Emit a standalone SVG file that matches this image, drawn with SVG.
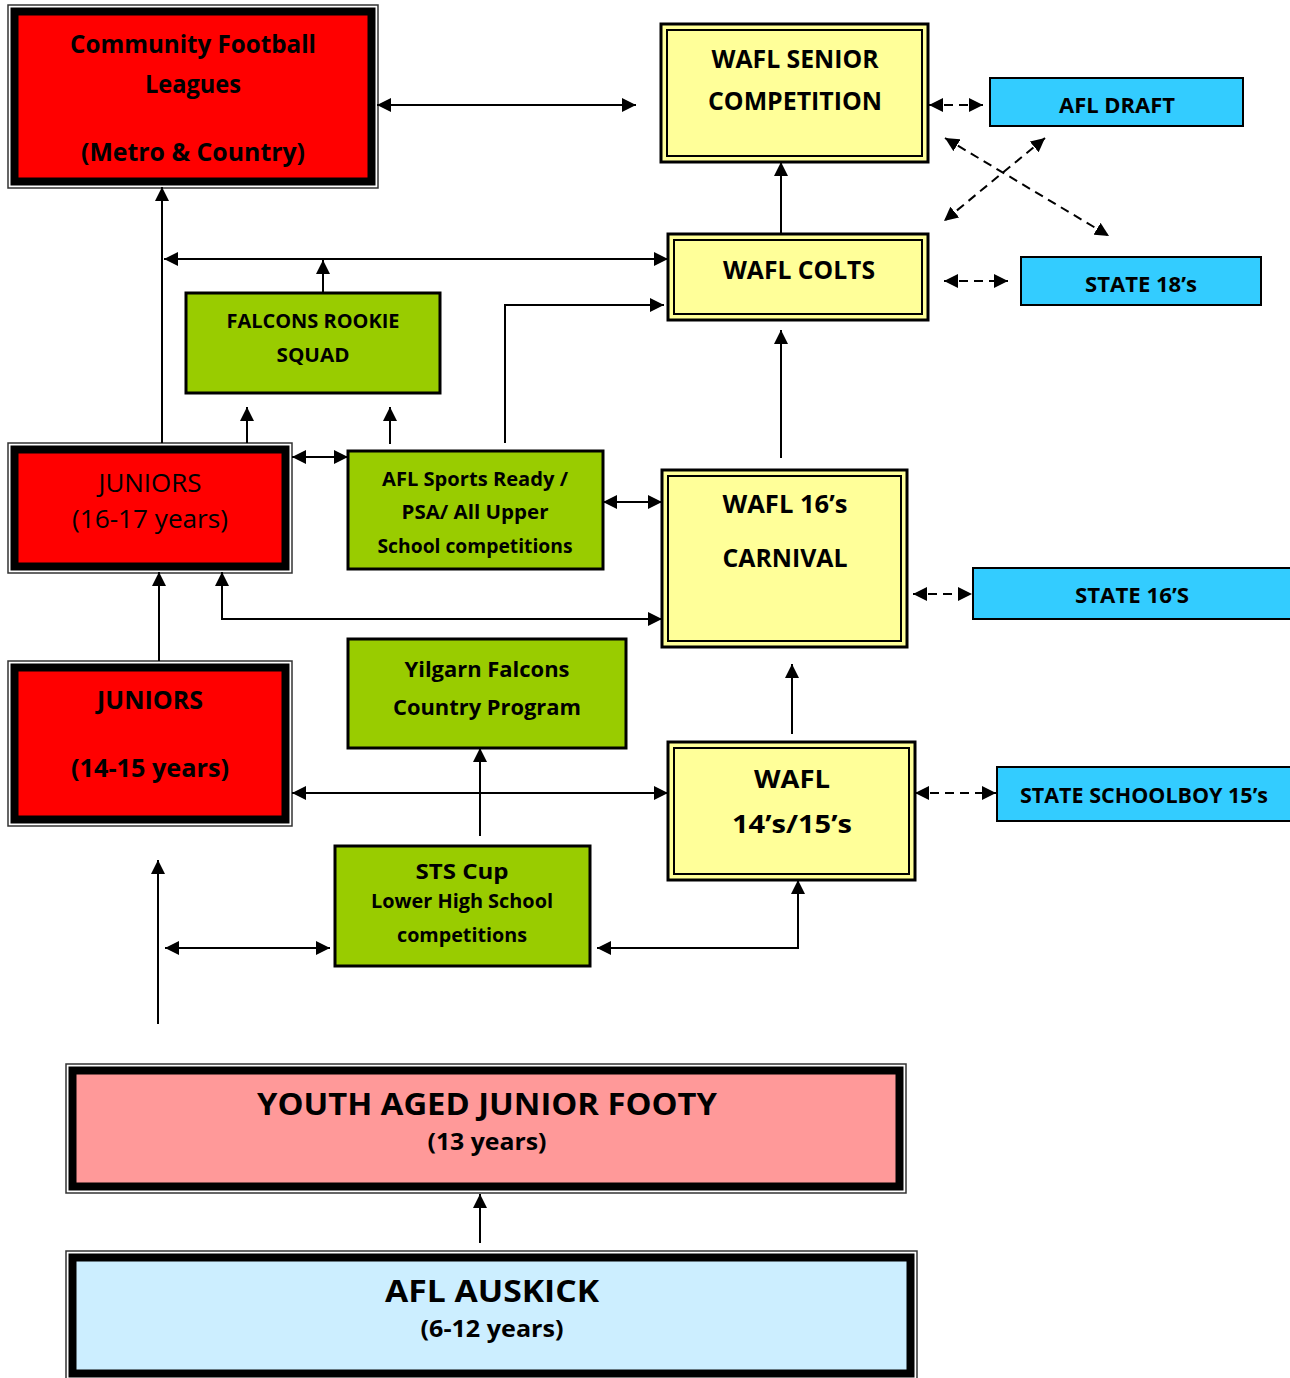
<svg xmlns="http://www.w3.org/2000/svg" width="1290" height="1378" viewBox="0 0 1290 1378">
<defs>
<style>
text{font-family:"Open Sans","Liberation Sans",sans-serif;font-weight:bold;fill:#000;text-anchor:middle}
.n{font-weight:normal}
.ow{fill:#fff;stroke:#333;stroke-width:1.5}
.ib{stroke:#000;stroke-width:8}
.red{fill:#ff0000}
.pink{fill:#ff9999}
.lblue{fill:#cceeff}
.yo{fill:#ffff99;stroke:#000;stroke-width:3}
.yi{fill:#ffff99;stroke:#000;stroke-width:2}
.gr{fill:#99cc00;stroke:#000;stroke-width:3}
.bl{fill:#33ccff;stroke:#000;stroke-width:2}
.c{fill:none;stroke:#000;stroke-width:2;marker-end:url(#a)}
.d{marker-start:url(#a)}
.ds{stroke-dasharray:9 6}
</style>
<marker id="a" viewBox="0 0 12 12" refX="12" refY="6" markerWidth="14" markerHeight="14" markerUnits="userSpaceOnUse" orient="auto-start-reverse"><path d="M0,0 L12,6 L0,12 z" fill="#000"/></marker>
</defs>
<rect width="1290" height="1378" fill="#fff"/>

<g id="community">
<rect class="ow" x="8" y="5" width="370" height="183"/>
<rect class="ib red" x="14.5" y="11.5" width="357" height="170"/>
<text x="193" y="53" font-size="25" textLength="246" lengthAdjust="spacingAndGlyphs">Community Football</text>
<text x="193" y="93" font-size="25" textLength="96" lengthAdjust="spacingAndGlyphs">Leagues</text>
<text x="193" y="161" font-size="25" textLength="224" lengthAdjust="spacingAndGlyphs">(Metro &amp; Country)</text>
</g>

<g id="wafl-senior">
<rect class="yo" x="661" y="24" width="267" height="138"/>
<rect class="yi" x="667" y="30" width="255" height="126"/>
<text x="795" y="68" font-size="25" textLength="167" lengthAdjust="spacingAndGlyphs">WAFL SENIOR</text>
<text x="795" y="110" font-size="25" textLength="174" lengthAdjust="spacingAndGlyphs">COMPETITION</text>
</g>

<g id="afl-draft">
<rect class="bl" x="990" y="78" width="253" height="48"/>
<text x="1117" y="113" font-size="22" textLength="116" lengthAdjust="spacingAndGlyphs">AFL DRAFT</text>
</g>

<g id="wafl-colts">
<rect class="yo" x="668" y="234" width="260" height="86"/>
<rect class="yi" x="674" y="240" width="248" height="74"/>
<text x="799" y="279" font-size="25" textLength="152" lengthAdjust="spacingAndGlyphs">WAFL COLTS</text>
</g>

<g id="state-18s">
<rect class="bl" x="1021" y="257" width="240" height="48"/>
<text x="1141" y="292" font-size="22" textLength="112" lengthAdjust="spacingAndGlyphs">STATE 18’s</text>
</g>

<g id="falcons-rookie">
<rect class="gr" x="186" y="293" width="254" height="100"/>
<text x="313" y="328" font-size="20" textLength="173" lengthAdjust="spacingAndGlyphs">FALCONS ROOKIE</text>
<text x="313" y="362" font-size="20" textLength="73" lengthAdjust="spacingAndGlyphs">SQUAD</text>
</g>

<g id="juniors-16-17">
<rect class="ow" x="8" y="443" width="284" height="130"/>
<rect class="ib red" x="14.5" y="449.5" width="271" height="117"/>
<text class="n" x="150" y="492" font-size="25" textLength="103" lengthAdjust="spacingAndGlyphs">JUNIORS</text>
<text class="n" x="150" y="528" font-size="25" textLength="156" lengthAdjust="spacingAndGlyphs">(16-17 years)</text>
</g>

<g id="afl-sports-ready">
<rect class="gr" x="348" y="451" width="255" height="118"/>
<text x="475" y="486" font-size="20" textLength="186" lengthAdjust="spacingAndGlyphs">AFL Sports Ready /</text>
<text x="475" y="519" font-size="20" textLength="147" lengthAdjust="spacingAndGlyphs">PSA/ All Upper</text>
<text x="475" y="553" font-size="20" textLength="195" lengthAdjust="spacingAndGlyphs">School competitions</text>
</g>

<g id="wafl-16s">
<rect class="yo" x="662" y="470" width="245" height="177"/>
<rect class="yi" x="668" y="476" width="233" height="165"/>
<text x="785" y="513" font-size="25" textLength="125" lengthAdjust="spacingAndGlyphs">WAFL 16’s</text>
<text x="785" y="567" font-size="25" textLength="125" lengthAdjust="spacingAndGlyphs">CARNIVAL</text>
</g>

<g id="state-16s">
<rect class="bl" x="973" y="568" width="320" height="51"/>
<text x="1132" y="603" font-size="22" textLength="114" lengthAdjust="spacingAndGlyphs">STATE 16’S</text>
</g>

<g id="yilgarn">
<rect class="gr" x="348" y="639" width="278" height="109"/>
<text x="487" y="677" font-size="22" textLength="165" lengthAdjust="spacingAndGlyphs">Yilgarn Falcons</text>
<text x="487" y="715" font-size="22" textLength="188" lengthAdjust="spacingAndGlyphs">Country Program</text>
</g>

<g id="juniors-14-15">
<rect class="ow" x="8" y="661" width="284" height="165"/>
<rect class="ib red" x="14.5" y="667.5" width="271" height="152"/>
<text x="150" y="709" font-size="25" textLength="106" lengthAdjust="spacingAndGlyphs">JUNIORS</text>
<text x="150" y="777" font-size="25" textLength="158" lengthAdjust="spacingAndGlyphs">(14-15 years)</text>
</g>

<g id="wafl-14-15">
<rect class="yo" x="668" y="742" width="247" height="138"/>
<rect class="yi" x="674" y="748" width="235" height="126"/>
<text x="792" y="788" font-size="25" textLength="76" lengthAdjust="spacingAndGlyphs">WAFL</text>
<text x="792" y="833" font-size="25" textLength="120" lengthAdjust="spacingAndGlyphs">14’s/15’s</text>
</g>

<g id="state-schoolboy">
<rect class="bl" x="997" y="767" width="296" height="54"/>
<text x="1144" y="803" font-size="22" textLength="248" lengthAdjust="spacingAndGlyphs">STATE SCHOOLBOY 15’s</text>
</g>

<g id="sts-cup">
<rect class="gr" x="335" y="846" width="255" height="120"/>
<text x="462" y="879" font-size="22" textLength="93" lengthAdjust="spacingAndGlyphs">STS Cup</text>
<text x="462" y="908" font-size="20" textLength="182" lengthAdjust="spacingAndGlyphs">Lower High School</text>
<text x="462" y="942" font-size="20" textLength="130" lengthAdjust="spacingAndGlyphs">competitions</text>
</g>

<g id="youth-aged">
<rect class="ow" x="66" y="1064" width="840" height="129"/>
<rect class="ib pink" x="72.5" y="1070.5" width="827" height="116"/>
<text x="487" y="1115" font-size="30" textLength="460" lengthAdjust="spacingAndGlyphs">YOUTH AGED JUNIOR FOOTY</text>
<text x="487" y="1150" font-size="24" textLength="119" lengthAdjust="spacingAndGlyphs">(13 years)</text>
</g>

<g id="afl-auskick">
<rect class="ow" x="66" y="1251" width="851" height="140"/>
<rect class="ib lblue" x="72.5" y="1257.5" width="838" height="116"/>
<text x="492" y="1302" font-size="30" textLength="214" lengthAdjust="spacingAndGlyphs">AFL AUSKICK</text>
<text x="492" y="1337" font-size="24" textLength="143" lengthAdjust="spacingAndGlyphs">(6-12 years)</text>
</g>

<g id="connectors">
<path class="c d" d="M377,105 H636"/>
<path class="c d ds" d="M929,105 H983"/>
<path class="c d ds" d="M945,138 L1109,236"/>
<path class="c d ds" d="M1045,138 L944,221"/>
<path class="c" d="M781,234 V162"/>
<path class="c d ds" d="M944,281 H1008"/>
<path class="c d" d="M164,259 H668"/>
<path class="c" d="M323,293 V260"/>
<path class="c" d="M162,443 V187"/>
<path class="c" d="M247,443 V407"/>
<path class="c" d="M390,444 V407"/>
<path class="c" d="M505,443 V305 H664"/>
<path class="c d" d="M292,457 H348"/>
<path class="c d" d="M603,502 H662"/>
<path class="c" d="M781,458 V330"/>
<path class="c d ds" d="M913,594 H972"/>
<path class="c" d="M159,661 V572"/>
<path class="c d" d="M222,572 V619 H662"/>
<path class="c" d="M792,734 V664"/>
<path class="c d" d="M292,793 H668"/>
<path class="c" d="M480,836 V748"/>
<path class="c d ds" d="M915,793 H996"/>
<path class="c" d="M158,1024 V860"/>
<path class="c d" d="M165,948 H330"/>
<path class="c d" d="M597,948 H798 V880"/>
<path class="c" d="M480,1243 V1194"/>
</g>
</svg>
